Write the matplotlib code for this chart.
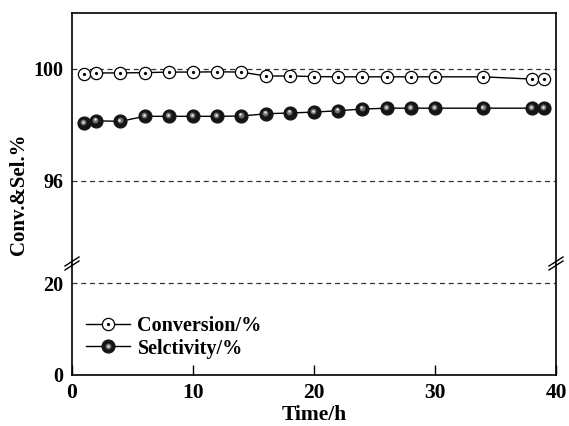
import matplotlib
matplotlib.use("Agg")
import matplotlib.pyplot as plt
import matplotlib.transforms as mtrans
from matplotlib.lines import Line2D
from matplotlib.legend_handler import HandlerTuple

time_h = [1, 2, 4, 6, 8, 10, 12, 14, 16, 18, 20, 22, 24, 26, 28, 30, 34, 38, 39]
conversion = [99.82, 99.86, 99.86, 99.87, 99.89, 99.89, 99.9, 99.89, 99.75, 99.75,
              99.73, 99.72, 99.72, 99.72, 99.72, 99.72, 99.72, 99.64, 99.64]
selectivity = [98.06, 98.15, 98.13, 98.31, 98.31, 98.31, 98.31, 98.32, 98.40, 98.43,
               98.46, 98.51, 98.57, 98.60, 98.60, 98.60, 98.60, 98.60, 98.60]

x_ticks = [0, 10, 20, 30, 40]
top_ticks = [96, 100]
bottom_ticks = [0, 20]

plt.rcParams["font.family"] = ["Liberation Serif", "DejaVu Serif"]
plt.rcParams["font.weight"] = "bold"

fig = plt.figure(figsize=(5.69, 4.26), dpi=100)
L, R = 72 / 569, 556 / 569
y_break = 1 - 265 / 426
ax_top = fig.add_axes([L, y_break, R - L, (1 - 13 / 426) - y_break])
ax_bot = fig.add_axes([L, 1 - 375 / 426, R - L, y_break - (1 - 375 / 426)])

ms = 8.8
for ax in (ax_top, ax_bot):
    ax.plot(time_h, conversion, "-", color="black", lw=1.0, marker="o", ms=ms,
            mfc="white", mec="black", mew=0.9, zorder=3)
    ax.plot(time_h, conversion, "o", color="black", ms=1.3, zorder=4)
    ax.plot(time_h, selectivity, "-", color="black", lw=1.0, marker="o", ms=ms + 0.4,
            mfc="#151515", mec="#151515", zorder=3)
    hl = mtrans.offset_copy(ax.transData, fig=fig, x=-0.8, y=1.2, units="dots")
    ax.plot(time_h, selectivity, "o", color="#707070", ms=4.2, mew=0, transform=hl, zorder=4)
    hl2 = mtrans.offset_copy(ax.transData, fig=fig, x=-1.0, y=1.6, units="dots")
    ax.plot(time_h, selectivity, "o", color="#e8e8e8", ms=1.8, mew=0, transform=hl2, zorder=5)
    ax.set_xlim(0, 40)
    for s in ax.spines.values():
        s.set_linewidth(1.2)

ax_top.set_ylim(93, 102)
ax_bot.set_ylim(0, 24)
ax_top.set_yticks(top_ticks)
ax_bot.set_yticks(bottom_ticks)
for v in top_ticks:
    ax_top.axhline(v, color="#333333", lw=0.9, ls=(0, (4, 3)), zorder=1)
ax_bot.axhline(20, color="#333333", lw=0.9, ls=(0, (4, 3)), zorder=1)

ax_top.spines["bottom"].set_visible(False)
ax_bot.spines["top"].set_visible(False)
ax_top.tick_params(axis="x", bottom=False, labelbottom=False)
ax_top.tick_params(axis="y", length=0, labelsize=14.5, pad=6)
ax_bot.tick_params(axis="y", length=0, labelsize=14.5, pad=6)
ax_bot.set_xticks(x_ticks)
ax_bot.tick_params(axis="x", direction="in", length=7, width=1.0, labelsize=15.5, pad=6)

ax_bot.set_xlabel("Time/h", fontsize=15.5, fontweight="bold", labelpad=1)
fig.text(0.034, 0.545, "Conv.&Sel.%", rotation=90, ha="center", va="center",
         fontsize=15, fontweight="bold")

# break marks
for xf in (L, R):
    x0 = xf * 569 - 7
    for dy in (-4, 0):
        fig.add_artist(Line2D([x0 / 569, (x0 + 14) / 569],
                              [1 - (270 + dy) / 426, 1 - (261 + dy) / 426],
                              color="black", lw=1.0))

conv_h = (Line2D([], [], color="black", lw=1.0, marker="o", ms=ms, mfc="white",
                 mec="black", mew=0.9),
          Line2D([], [], ls="none", marker="o", color="black", ms=1.3))
sel_h = (Line2D([], [], color="black", lw=1.0, marker="o", ms=ms + 0.4, mfc="#151515",
                mec="#151515"),
         Line2D([], [], ls="none", marker="o", color="#707070", ms=4.2, mew=0),
         Line2D([], [], ls="none", marker="o", color="#e8e8e8", ms=1.8, mew=0))
ax_bot.legend([conv_h, sel_h], ["Conversion/%", "Selctivity/%"],
              handler_map={tuple: HandlerTuple(ndivide=1)},
              loc="upper left", bbox_to_anchor=(0.0, 0.66), frameon=False,
              prop={"size": 14.5, "weight": "bold"}, handlelength=2.2,
              handletextpad=0.35, labelspacing=0.1, borderaxespad=0.3)

fig.savefig("out.png", dpi=100)
plt.close(fig)
